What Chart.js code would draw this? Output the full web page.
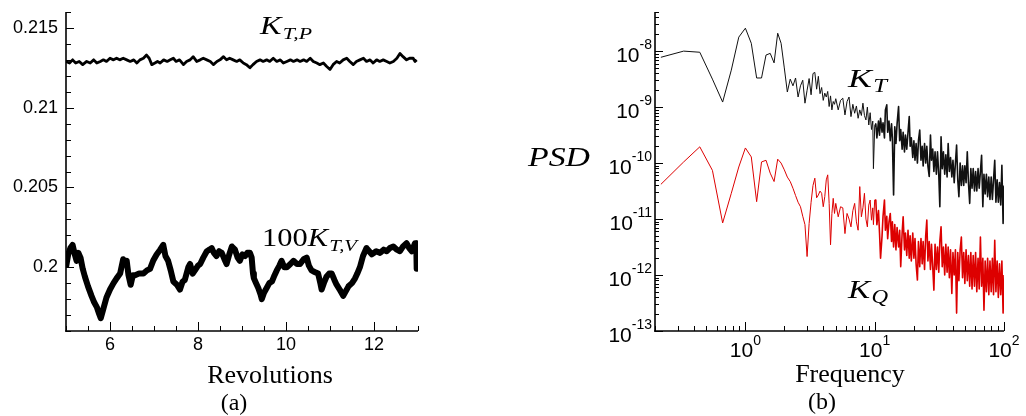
<!DOCTYPE html>
<html><head><meta charset="utf-8">
<script src="https://cdn.jsdelivr.net/npm/chart.js@4.4.1/dist/chart.umd.min.js"></script>
<style>
html,body{margin:0;padding:0;background:#fff;}
#wrap{position:relative;width:1026px;height:416px;overflow:hidden;background:#fff;}
canvas{position:absolute;left:0;top:0;}
</style></head><body>
<div id="wrap"><canvas id="c1" width="1026" height="416"></canvas><canvas id="c2" width="1026" height="416"></canvas></div>
<script>
// ---------- Panel (a): thrust coefficient vs revolutions ----------
const upperX = [5.00,5.08,5.15,5.22,5.30,5.38,5.47,5.55,5.63,5.70,5.78,5.85,5.92,6.00,6.08,6.15,6.22,6.30,6.38,6.46,6.54,6.61,6.68,6.76,6.83,6.89,6.95,7.02,7.08,7.14,7.22,7.30,7.37,7.44,7.50,7.58,7.67,7.74,7.82,7.89,7.97,8.05,8.12,8.20,8.28,8.35,8.43,8.50,8.58,8.65,8.72,8.80,8.88,8.95,9.03,9.10,9.18,9.25,9.33,9.41,9.48,9.56,9.63,9.71,9.79,9.87,9.94,10.02,10.10,10.17,10.25,10.32,10.40,10.47,10.55,10.62,10.70,10.77,10.85,10.92,11.00,11.07,11.15,11.22,11.30,11.38,11.45,11.53,11.60,11.68,11.76,11.83,11.91,11.98,12.06,12.13,12.21,12.29,12.36,12.44,12.52,12.59,12.66,12.74,12.81,12.89,12.93,12.97];
const upperKTP = [0.2129,0.2128,0.2130,0.2128,0.2129,0.2127,0.2129,0.2128,0.2130,0.2128,0.2129,0.2130,0.2129,0.2131,0.2130,0.2131,0.2130,0.2131,0.2130,0.2129,0.2130,0.2128,0.2130,0.2131,0.2133,0.2131,0.2127,0.2128,0.2129,0.2128,0.2130,0.2129,0.2130,0.2131,0.2129,0.2130,0.2127,0.2129,0.2130,0.2132,0.2129,0.2130,0.2131,0.2130,0.2129,0.2127,0.2129,0.2130,0.2132,0.2130,0.2131,0.2130,0.2129,0.2130,0.2128,0.2127,0.2125,0.2127,0.2129,0.2130,0.2129,0.2130,0.2129,0.2131,0.2129,0.2130,0.2128,0.2129,0.2130,0.2129,0.2130,0.2129,0.2130,0.2129,0.2131,0.2129,0.2128,0.2127,0.2128,0.2126,0.2124,0.2127,0.2129,0.2128,0.2130,0.2131,0.2129,0.2127,0.2129,0.2130,0.2131,0.2129,0.2130,0.2128,0.2130,0.2129,0.2130,0.2129,0.2128,0.2129,0.2131,0.2134,0.2132,0.2130,0.2131,0.2131,0.2129,0.2130];
const lowerX = [5.00,5.05,5.10,5.15,5.20,5.24,5.28,5.33,5.38,5.43,5.50,5.58,5.64,5.70,5.75,5.79,5.85,5.92,6.00,6.08,6.15,6.23,6.30,6.34,6.38,6.42,6.47,6.52,6.57,6.66,6.76,6.84,6.91,6.98,7.06,7.14,7.21,7.26,7.32,7.38,7.44,7.52,7.59,7.65,7.70,7.78,7.82,7.88,7.93,8.00,8.05,8.12,8.20,8.26,8.31,8.36,8.42,8.48,8.54,8.60,8.65,8.71,8.77,8.84,8.90,8.95,9.01,9.07,9.12,9.18,9.22,9.25,9.27,9.32,9.37,9.42,9.45,9.50,9.56,9.62,9.68,9.74,9.79,9.85,9.90,9.96,10.02,10.10,10.17,10.25,10.32,10.40,10.47,10.52,10.58,10.65,10.73,10.78,10.81,10.86,10.92,10.98,11.04,11.10,11.15,11.22,11.30,11.36,11.42,11.50,11.57,11.62,11.68,11.75,11.83,11.89,11.95,12.05,12.14,12.22,12.29,12.36,12.44,12.52,12.59,12.66,12.74,12.80,12.86,12.93,12.96,12.97];
const lower100KTV = [0.2000,0.2008,0.2012,0.2014,0.2008,0.2004,0.2009,0.2006,0.1999,0.1994,0.1988,0.1982,0.1978,0.1975,0.1971,0.1968,0.1974,0.1981,0.1986,0.1990,0.1993,0.1996,0.2005,0.2003,0.2004,0.1995,0.1989,0.1995,0.1995,0.1996,0.1996,0.1998,0.1999,0.2004,0.2008,0.2011,0.2014,0.2007,0.2004,0.1998,0.1991,0.1989,0.1986,0.1991,0.1992,0.2000,0.2002,0.1996,0.1998,0.2001,0.2002,0.2006,0.2010,0.2011,0.2012,0.2009,0.2007,0.2010,0.2009,0.2005,0.2002,0.2008,0.2013,0.2011,0.2006,0.2004,0.2008,0.2007,0.2009,0.2009,0.2006,0.1996,0.1993,0.1990,0.1987,0.1983,0.1980,0.1984,0.1987,0.1990,0.1991,0.1995,0.1998,0.2001,0.2004,0.2000,0.2000,0.2002,0.2004,0.2002,0.2002,0.2005,0.2006,0.2001,0.1998,0.1997,0.1996,0.1990,0.1986,0.1990,0.1994,0.1996,0.1996,0.1992,0.1989,0.1986,0.1982,0.1985,0.1988,0.1990,0.1993,0.1996,0.2000,0.2007,0.2012,0.2010,0.2008,0.2010,0.2009,0.2011,0.2010,0.2012,0.2013,0.2011,0.2010,0.2013,0.2015,0.2012,0.2010,0.2015,0.2015,0.1999];
const leftXTickValues = [6,8,10,12];
const leftXTickLabels = ['6','8','10','12'];
const leftYTickValues = [0.2,0.205,0.21,0.215];
const leftYTickLabels = ['0.2','0.205','0.21','0.215'];

// ---------- Panel (b): power spectral density (values stored as log10) ----------
const freq = [0.222,0.333,0.444,0.556,0.667,0.778,0.889,1,1.111,1.222,1.333,1.444,1.556,1.667,1.778,1.889,2,2.111,2.222,2.333,2.444,2.556,2.667,2.778,2.889,3,
 3.111,3.222,3.333,3.444,3.556,3.667,3.778,3.889,4,4.111,4.222,4.333,4.444,4.556,4.667,4.778,4.889,5,5.222,5.444,5.667,5.889,6.111,6.333,6.556,6.778,7,7.222,7.444,7.667,7.889,8.111,8.333,8.556,8.778,9,9.222,9.444,9.667,9.778,10,
 10.2,10.4,10.7,10.9,11.1,11.4,11.6,11.9,12.1,12.4,12.6,12.9,13.2,13.5,13.7,14.0,14.3,14.6,14.9,15.3,15.6,15.9,16.3,16.6,17.0,17.3,17.7,18.1,18.5,18.8,19.2,19.7,20.1,20.5,20.9,21.4,21.8,22.3,22.8,23.3,23.7,24.3,24.8,25.3,25.8,26.4,27.0,27.5,28.1,28.7,29.3,30.0,30.6,31.3,31.9,32.6,33.3,34.0,34.8,35.5,36.3,37.0,37.8,38.6,39.5,40.3,41.2,42.1,43.0,43.9,44.8,45.8,46.8,47.8,48.8,49.8,50.9,52.0,53.1,54.3,55.4,56.6,57.8,59.1,60.3,61.6,63.0,64.3,65.7,67.1,68.6,70.0,71.5,73.1,74.7,76.3,77.9,79.6,81.3,83.0,84.8,86.6,88.5,90.4,92.3,94.3,96.3,98.4,100];
const psdKT_log10 = [-8.11,-8.00,-8.02,-8.50,-8.91,-8.34,-7.75,-7.59,-7.86,-8.48,-8.48,-8.07,-8.04,-8.21,-7.68,-7.86,-8.30,-8.73,-8.50,-8.62,-8.48,-8.82,-8.62,-8.52,-8.93,-8.70,
 -8.49,-8.78,-8.40,-8.38,-8.68,-8.45,-8.76,-8.65,-8.88,-8.75,-8.82,-8.72,-8.99,-8.80,-9.05,-8.90,-8.95,-8.85,-9.05,-8.88,-8.84,-9.14,-8.90,-8.82,-9.17,-8.95,-9.11,-8.98,-9.20,-9.05,-9.15,-8.93,-9.15,-9.23,-9.00,-9.32,-9.10,-9.40,-9.25,-10.10,-9.35,
 -9.30,-9.55,-9.25,-9.50,-9.20,-9.45,-9.28,-9.55,-9.05,-8.96,
 -9.45,-9.25,-9.60,-9.30,-9.55,-10.57,-9.35,-9.65,-9.30,-8.99,
 -9.60,-9.40,-9.75,-9.45,-9.80,-9.50,-9.75,-9.45,-9.17,-9.70,
 -9.55,-9.90,-9.60,-9.95,-9.65,-10.00,-9.60,-9.41,-9.95,-9.70,
 -10.05,-9.65,-10.00,-9.70,-10.05,-10.24,-9.50,-9.95,-9.75,-10.15,
 -9.80,-10.20,-9.80,-10.20,-10.78,-9.53,-10.10,-9.80,-10.20,-9.85,
 -10.25,-9.65,-10.15,-9.90,-10.25,-9.95,-10.35,-10.00,-9.68,-10.30,
 -10.60,-10.00,-10.40,-10.05,-10.40,-10.05,-10.35,-9.80,-10.35,-10.72,
 -10.10,-10.45,-10.10,-10.50,-10.15,-10.50,-10.10,-10.45,-10.15,-9.86,
 -10.78,-10.20,-10.55,-10.20,-10.60,-10.25,-10.65,-10.25,-10.65,-10.30,
 -9.95,-10.70,-10.30,-10.70,-10.35,-10.75,-10.04,-11.08,-10.40];
const psdKQ_log10 = [-10.38,-9.98,-9.71,-10.13,-11.07,-10.54,-10.07,-9.73,-9.89,-10.69,-9.98,-9.95,-10.18,-10.33,-9.93,-10.00,-10.12,-10.25,-10.33,-10.45,-10.58,-10.70,-10.78,-10.95,-11.10,-11.67,
 -11.08,-10.70,-10.40,-10.27,-10.62,-10.57,-10.50,-10.54,-10.78,-10.60,-10.30,-10.21,-10.72,-11.46,-10.90,-10.63,-10.90,-10.72,-10.96,-10.78,-10.80,-11.26,-10.90,-11.00,-11.14,-10.85,-10.72,-11.05,-11.20,-10.42,-10.96,-10.80,-10.54,-11.00,-11.14,-10.75,-10.66,-11.02,-10.80,-11.10,-10.66,
 -10.66,-11.10,-10.85,-11.25,-11.70,-11.30,-10.95,-10.66,-11.20,-10.95,
 -11.35,-11.05,-10.90,-11.40,-11.05,-11.50,-11.10,-11.55,-11.15,-11.50,
 -11.20,-11.85,-11.25,-10.96,-11.55,-11.25,-11.65,-11.20,-11.70,-11.30,
 -11.75,-11.25,-11.70,-11.35,-11.80,-12.09,-11.40,-11.85,-11.35,-11.80,
 -11.40,-11.90,-11.30,-11.02,-11.75,-11.40,-11.90,-11.45,-11.85,-12.27,
 -11.45,-11.90,-11.50,-11.95,-11.40,-11.14,-11.85,-11.50,-12.00,-11.45,
 -11.95,-11.50,-12.05,-11.55,-12.33,-11.60,-12.00,-11.55,-12.68,-11.60,
 -12.10,-11.55,-11.32,-12.05,-11.60,-12.15,-11.55,-12.10,-11.65,-12.20,
 -11.60,-12.25,-11.65,-12.20,-11.60,-12.30,-11.70,-12.25,-11.32,-12.20,
 -11.70,-12.63,-11.75,-12.30,-11.70,-12.35,-11.75,-12.30,-11.70,-12.35,
 -11.38,-12.30,-11.75,-12.40,-11.80,-12.35,-11.75,-12.68,-12.00];
const rightXTickValues = [1,10,100];
const rightXTickExp = ['0','1','2'];
const rightYTickValues = [1e-13,1e-12,1e-11,1e-10,1e-9,1e-8];
const rightYTickExp = ['-13','-12','-11','-10','-9','-8'];

// ---------- helpers ----------
function zeroPad(s){ s.paddingTop=0; s.paddingBottom=0; s.paddingLeft=0; s.paddingRight=0; }
function drawRich(ctx, x, y, parts, align, targetW){
  let w=0;
  parts.forEach(p=>{ ctx.font=p.f; p.w=ctx.measureText(p.t).width; w+=p.w+(p.dx||0); });
  const sx = targetW ? targetW/w : 1;
  const W = w*sx;
  let x0 = align==='center' ? x-W/2 : (align==='right' ? x-W : x);
  ctx.save();
  ctx.translate(x0, y); ctx.scale(sx, 1);
  let cx=0;
  parts.forEach(p=>{ ctx.font=p.f; cx+=(p.dx||0); ctx.fillText(p.t, cx, (p.dy||0)); cx+=p.w; });
  ctx.restore();
}
const SERIF='"Liberation Serif","Times New Roman",serif';
const SANS='"Liberation Sans",Arial,sans-serif';

const deco = {
  id:'deco',
  afterDraw(chart, args, o){
    const ctx=chart.ctx, ca=chart.chartArea, xs=chart.scales.x, ys=chart.scales.y;
    ctx.save();
    ctx.strokeStyle='#000'; ctx.fillStyle='#000'; ctx.lineWidth=1;
    const seg=(x1,y1,x2,y2)=>{ ctx.beginPath(); ctx.moveTo(x1,y1); ctx.lineTo(x2,y2); ctx.stroke(); };
    o.xTicks.forEach(t=>{ const p=Math.round(xs.getPixelForValue(t.v))+0.5; seg(p,ca.bottom,p,ca.bottom-t.len); });
    o.yTicks.forEach(t=>{ const p=Math.round(ys.getPixelForValue(t.v))+0.5; seg(ca.left,p,ca.left+t.len,p); });
    ctx.lineWidth=1.6;
    seg(ca.left,ca.top,ca.left,ca.bottom+0.8);
    seg(ca.left-0.8,ca.bottom,ca.right,ca.bottom);
    ctx.textBaseline='alphabetic'; ctx.textAlign='left';
    if (o.expLabels){
      rightXTickValues.forEach((v,i)=>{
        const p=xs.getPixelForValue(v);
        drawRich(ctx,p,ca.bottom+26,[{t:'10',f:'21px '+SANS},{t:rightXTickExp[i],f:'14px '+SANS,dy:-12}],'center');
      });
      rightYTickValues.forEach((v,i)=>{
        const p=ys.getPixelForValue(v);
        drawRich(ctx,ca.left-3,p+11,[{t:'10',f:'21px '+SANS},{t:rightYTickExp[i],f:'14px '+SANS,dy:-13}],'right');
      });
    }
    (o.texts||[]).forEach(t=>drawRich(ctx,t.x,t.y,t.parts,t.align||'left',t.w));
    ctx.restore();
  }
};

// tick mark lists (axis decoration)
const leftXTicks=[]; for(let i=10;i<=26;i++){ const v=i/2; leftXTicks.push({v, len: leftXTickValues.includes(v)?9:5}); }
const leftYTicks=[]; for(let i=196;i<=216;i++){ leftYTicks.push({v:i/1000, len: i%5===0?8:5}); }
const rightXTicks=[]; [0.1,1,10].forEach(d=>{ for(let m=1;m<=9;m++){ const v=m*d; if(v>=0.2-1e-9 && v<=100) rightXTicks.push({v, len:m===1?9:5}); } }); rightXTicks.push({v:100,len:9});
const rightYTicks=[]; for(let e=-13;e<=-8;e++){ for(let m=1;m<=9;m++){ const v=m*Math.pow(10,e); if(v<=5e-8) rightYTicks.push({v, len:m===1?8:4}); } }

const denseWidth = c => (c.p0.parsed.x >= 10 ? 1.6 : 1);

// ---------- chart (a) ----------
new Chart(document.getElementById('c1'), {
  type:'line',
  data:{ datasets:[
    { data: upperX.map((x,i)=>({x, y:upperKTP[i]})), borderColor:'#000', borderWidth:2.8, pointRadius:0, tension:0, borderJoinStyle:'round' },
    { data: lowerX.map((x,i)=>({x, y:lower100KTV[i]})), borderColor:'#000', borderWidth:6, pointRadius:0, tension:0, borderJoinStyle:'round' }
  ]},
  options:{
    responsive:false, animation:false, events:[],
    layout:{ padding:{ left:0, top:12, right:608, bottom:0 } },
    plugins:{ legend:{display:false}, tooltip:{enabled:false},
      deco:{ xTicks:leftXTicks, yTicks:leftYTicks, expLabels:false, texts:[
        {x:260,y:34,w:52,parts:[{t:'K',f:'italic 25px '+SERIF},{t:'T,P',f:'italic 17px '+SERIF,dy:5,dx:1}]},
        {x:262,y:246,w:95,parts:[{t:'100',f:'25px '+SERIF},{t:'K',f:'italic 25px '+SERIF},{t:'T,V',f:'italic 17px '+SERIF,dy:5,dx:1}]},
        {x:270,y:383,parts:[{t:'Revolutions',f:'26px '+SERIF}],align:'center'},
        {x:234,y:410,parts:[{t:'(a)',f:'24px '+SERIF}],align:'center'}
      ]}
    },
    scales:{
      x:{ type:'linear', min:5, max:13,
          afterBuildTicks:s=>{ s.ticks=leftXTickValues.map(v=>({value:v})); },
          ticks:{ callback:(v)=>leftXTickLabels[leftXTickValues.indexOf(v)], font:{family:'Liberation Sans',size:18}, color:'#000', padding:3, maxRotation:0, autoSkip:false },
          grid:{display:false, drawTicks:false}, border:{display:false},
          afterFit:s=>{ s.height=85; zeroPad(s); } },
      y:{ type:'linear', min:0.196, max:0.216,
          afterBuildTicks:s=>{ s.ticks=leftYTickValues.map(v=>({value:v})); },
          ticks:{ callback:(v)=>leftYTickLabels[leftYTickValues.findIndex(t=>Math.abs(t-v)<1e-9)], font:{family:'Liberation Sans',size:18}, color:'#000', padding:8, autoSkip:false },
          grid:{display:false, drawTicks:false}, border:{display:false},
          afterFit:s=>{ s.width=66; zeroPad(s); } }
    }
  },
  plugins:[deco]
});

// ---------- chart (b) ----------
new Chart(document.getElementById('c2'), {
  type:'line',
  data:{ datasets:[
    { data: freq.map((f,i)=>({x:f, y:Math.pow(10,psdKT_log10[i])})), borderColor:'#111', borderWidth:1, segment:{borderWidth:denseWidth}, pointRadius:0, tension:0, borderJoinStyle:'round' },
    { data: freq.map((f,i)=>({x:f, y:Math.pow(10,psdKQ_log10[i])})), borderColor:'#dd0000', borderWidth:1, segment:{borderWidth:denseWidth}, pointRadius:0, tension:0, borderJoinStyle:'round' }
  ]},
  options:{
    responsive:false, animation:false, events:[],
    layout:{ padding:{ left:555, top:12, right:22, bottom:0 } },
    plugins:{ legend:{display:false}, tooltip:{enabled:false},
      deco:{ xTicks:rightXTicks, yTicks:rightYTicks, expLabels:true, texts:[
        {x:848,y:87,w:39,parts:[{t:'K',f:'italic 26px '+SERIF},{t:'T',f:'italic 18px '+SERIF,dy:5,dx:1}]},
        {x:848,y:298,w:40,parts:[{t:'K',f:'italic 26px '+SERIF},{t:'Q',f:'italic 18px '+SERIF,dy:5,dx:1}]},
        {x:528,y:166,w:62,parts:[{t:'PSD',f:'italic 27px '+SERIF}]},
        {x:850,y:382,parts:[{t:'Frequency',f:'26px '+SERIF}],align:'center'},
        {x:822,y:409,parts:[{t:'(b)',f:'24px '+SERIF}],align:'center'}
      ]}
    },
    scales:{
      x:{ type:'logarithmic', min:0.2, max:100, ticks:{display:false},
          grid:{display:false, drawTicks:false}, border:{display:false},
          afterFit:s=>{ s.height=85; zeroPad(s); } },
      y:{ type:'logarithmic', min:1e-13, max:5e-8, ticks:{display:false},
          grid:{display:false, drawTicks:false}, border:{display:false},
          afterFit:s=>{ s.width=100; zeroPad(s); } }
    }
  },
  plugins:[deco]
});
</script>
</body></html>
